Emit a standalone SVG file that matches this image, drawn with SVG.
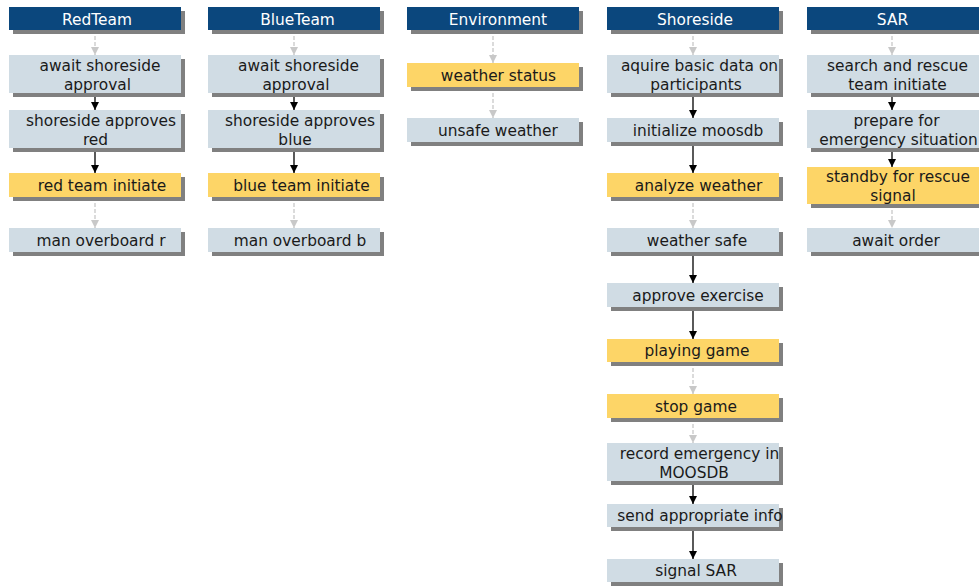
<svg xmlns="http://www.w3.org/2000/svg" width="979" height="586" viewBox="0 0 979 586">
  <defs>
    <style>
      .sh { fill: #808080; }
      .hd { fill: #0B477D; }
      .st { fill: #D0DCE4; }
      .ac { fill: #FDD567; }
      text { font-family: "DejaVu Sans", Verdana, sans-serif; font-size: 15.4px; text-anchor: middle; fill: #1a1a1a; }
      .ht { fill: #FFFFFF; }
      .solid { stroke: #000000; stroke-width: 1.3; fill: none; }
      .dash { stroke: #C8C8C8; stroke-width: 1.3; stroke-dasharray: 4 2; fill: none; }
    </style>
    <marker id="arrBlack" viewBox="0 0 8 8" refX="8" refY="4" markerWidth="8" markerHeight="8" markerUnits="userSpaceOnUse" orient="auto">
      <path d="M0,0 L8,4 L0,8 Z" fill="#000000"/>
    </marker>
    <marker id="arrGray" viewBox="0 0 8 8" refX="8" refY="4" markerWidth="8" markerHeight="8" markerUnits="userSpaceOnUse" orient="auto">
      <path d="M0,0 L8,4 L0,8 Z" fill="#C8C8C8"/>
    </marker>
  </defs>

  <rect width="979" height="586" fill="#FFFFFF"/>

  <!-- connectors -->
  <g id="connectors">
    <!-- RedTeam -->
    <line class="dash" x1="95" y1="30" x2="95" y2="55" marker-end="url(#arrGray)"/>
    <line class="solid" x1="95" y1="93" x2="95" y2="110" marker-end="url(#arrBlack)"/>
    <line class="solid" x1="95" y1="148" x2="95" y2="173" marker-end="url(#arrBlack)"/>
    <line class="dash" x1="95" y1="197" x2="95" y2="228" marker-end="url(#arrGray)"/>
    <!-- BlueTeam -->
    <line class="dash" x1="294" y1="30" x2="294" y2="55" marker-end="url(#arrGray)"/>
    <line class="solid" x1="294" y1="93" x2="294" y2="110" marker-end="url(#arrBlack)"/>
    <line class="solid" x1="294" y1="148" x2="294" y2="173" marker-end="url(#arrBlack)"/>
    <line class="dash" x1="294" y1="197" x2="294" y2="228" marker-end="url(#arrGray)"/>
    <!-- Environment -->
    <line class="dash" x1="493" y1="30" x2="493" y2="63" marker-end="url(#arrGray)"/>
    <line class="dash" x1="493" y1="87" x2="493" y2="118" marker-end="url(#arrGray)"/>
    <!-- Shoreside -->
    <line class="dash" x1="693" y1="30" x2="693" y2="55" marker-end="url(#arrGray)"/>
    <line class="solid" x1="693" y1="93" x2="693" y2="118" marker-end="url(#arrBlack)"/>
    <line class="solid" x1="693" y1="142" x2="693" y2="173" marker-end="url(#arrBlack)"/>
    <line class="dash" x1="693" y1="197" x2="693" y2="228" marker-end="url(#arrGray)"/>
    <line class="solid" x1="693" y1="252" x2="693" y2="283" marker-end="url(#arrBlack)"/>
    <line class="solid" x1="693" y1="307" x2="693" y2="339" marker-end="url(#arrBlack)"/>
    <line class="dash" x1="693" y1="362" x2="693" y2="394" marker-end="url(#arrGray)"/>
    <line class="dash" x1="693" y1="418" x2="693" y2="443" marker-end="url(#arrGray)"/>
    <line class="solid" x1="693" y1="481" x2="693" y2="504" marker-end="url(#arrBlack)"/>
    <line class="solid" x1="693" y1="527" x2="693" y2="559" marker-end="url(#arrBlack)"/>
    <!-- SAR -->
    <line class="dash" x1="892" y1="30" x2="892" y2="55" marker-end="url(#arrGray)"/>
    <line class="solid" x1="892" y1="93" x2="892" y2="110" marker-end="url(#arrBlack)"/>
    <line class="solid" x1="892" y1="148" x2="892" y2="167" marker-end="url(#arrBlack)"/>
    <line class="dash" x1="892" y1="204" x2="892" y2="228" marker-end="url(#arrGray)"/>
  </g>

  <!-- RedTeam lane -->
  <g id="red-header">
    <rect class="sh" x="13" y="11" width="172" height="23"/>
    <rect class="hd" x="9" y="7" width="172" height="23"/>
    <text class="ht" x="97" y="24.5">RedTeam</text>
  </g>
  <g id="red-await">
    <rect class="sh" x="13" y="59" width="172" height="38"/>
    <rect class="st" x="9" y="55" width="172" height="38"/>
    <text x="100" y="71">await shoreside</text>
    <text x="97.5" y="89.5">approval</text>
  </g>
  <g id="red-approves">
    <rect class="sh" x="13" y="114" width="172" height="38"/>
    <rect class="st" x="9" y="110" width="172" height="38"/>
    <text x="101" y="126">shoreside approves</text>
    <text x="95.5" y="144.5">red</text>
  </g>
  <g id="red-initiate">
    <rect class="sh" x="13" y="177" width="172" height="24"/>
    <rect class="ac" x="9" y="173" width="172" height="24"/>
    <text x="102" y="190.5">red team initiate</text>
  </g>
  <g id="red-overboard">
    <rect class="sh" x="13" y="232" width="172" height="24"/>
    <rect class="st" x="9" y="228" width="172" height="24"/>
    <text x="101" y="245.5">man overboard r</text>
  </g>

  <!-- BlueTeam lane -->
  <g id="blue-header">
    <rect class="sh" x="212" y="11" width="172" height="23"/>
    <rect class="hd" x="208" y="7" width="172" height="23"/>
    <text class="ht" x="297.5" y="24.5">BlueTeam</text>
  </g>
  <g id="blue-await">
    <rect class="sh" x="212" y="59" width="172" height="38"/>
    <rect class="st" x="208" y="55" width="172" height="38"/>
    <text x="298.5" y="71">await shoreside</text>
    <text x="296" y="89.5">approval</text>
  </g>
  <g id="blue-approves">
    <rect class="sh" x="212" y="114" width="172" height="38"/>
    <rect class="st" x="208" y="110" width="172" height="38"/>
    <text x="300" y="126">shoreside approves</text>
    <text x="295" y="144.5">blue</text>
  </g>
  <g id="blue-initiate">
    <rect class="sh" x="212" y="177" width="172" height="24"/>
    <rect class="ac" x="208" y="173" width="172" height="24"/>
    <text x="301.5" y="190.5">blue team initiate</text>
  </g>
  <g id="blue-overboard">
    <rect class="sh" x="212" y="232" width="172" height="24"/>
    <rect class="st" x="208" y="228" width="172" height="24"/>
    <text x="300" y="245.5">man overboard b</text>
  </g>

  <!-- Environment lane -->
  <g id="env-header">
    <rect class="sh" x="411" y="11" width="172" height="23"/>
    <rect class="hd" x="407" y="7" width="172" height="23"/>
    <text class="ht" x="498" y="24.5">Environment</text>
  </g>
  <g id="env-status">
    <rect class="sh" x="411" y="67" width="172" height="24"/>
    <rect class="ac" x="407" y="63" width="172" height="24"/>
    <text x="498.5" y="80.5">weather status</text>
  </g>
  <g id="env-unsafe">
    <rect class="sh" x="411" y="122" width="172" height="24"/>
    <rect class="st" x="407" y="118" width="172" height="24"/>
    <text x="498" y="135.5">unsafe weather</text>
  </g>

  <!-- Shoreside lane -->
  <g id="shore-header">
    <rect class="sh" x="611" y="11" width="172" height="23"/>
    <rect class="hd" x="607" y="7" width="172" height="23"/>
    <text class="ht" x="695" y="24.5">Shoreside</text>
  </g>
  <g id="shore-acquire">
    <rect class="sh" x="611" y="59" width="172" height="38"/>
    <rect class="st" x="607" y="55" width="172" height="38"/>
    <text x="699.5" y="71">aquire basic data on</text>
    <text x="696" y="89.5">participants</text>
  </g>
  <g id="shore-init">
    <rect class="sh" x="611" y="122" width="172" height="24"/>
    <rect class="st" x="607" y="118" width="172" height="24"/>
    <text x="698" y="135.5">initialize moosdb</text>
  </g>
  <g id="shore-analyze">
    <rect class="sh" x="611" y="177" width="172" height="24"/>
    <rect class="ac" x="607" y="173" width="172" height="24"/>
    <text x="698.5" y="190.5">analyze weather</text>
  </g>
  <g id="shore-safe">
    <rect class="sh" x="611" y="232" width="172" height="24"/>
    <rect class="st" x="607" y="228" width="172" height="24"/>
    <text x="697" y="245.5">weather safe</text>
  </g>
  <g id="shore-approve">
    <rect class="sh" x="611" y="287" width="172" height="24"/>
    <rect class="st" x="607" y="283" width="172" height="24"/>
    <text x="698" y="300.5">approve exercise</text>
  </g>
  <g id="shore-playing">
    <rect class="sh" x="611" y="343" width="172" height="23"/>
    <rect class="ac" x="607" y="339" width="172" height="23"/>
    <text x="697" y="356">playing game</text>
  </g>
  <g id="shore-stop">
    <rect class="sh" x="611" y="398" width="172" height="24"/>
    <rect class="ac" x="607" y="394" width="172" height="24"/>
    <text x="696" y="411.5">stop game</text>
  </g>
  <g id="shore-record">
    <rect class="sh" x="611" y="447" width="172" height="38"/>
    <rect class="st" x="607" y="443" width="172" height="38"/>
    <text x="699.5" y="459">record emergency in</text>
    <text x="694" y="477.5">MOOSDB</text>
  </g>
  <g id="shore-send">
    <rect class="sh" x="611" y="508" width="172" height="23"/>
    <rect class="st" x="607" y="504" width="172" height="23"/>
    <text x="700" y="521">send appropriate info</text>
  </g>
  <g id="shore-signal">
    <rect class="sh" x="611" y="563" width="172" height="23"/>
    <rect class="st" x="607" y="559" width="172" height="23"/>
    <text x="696" y="576">signal SAR</text>
  </g>

  <!-- SAR lane -->
  <g id="sar-header">
    <rect class="sh" x="811" y="11" width="172" height="23"/>
    <rect class="hd" x="807" y="7" width="172" height="23"/>
    <text class="ht" x="892.5" y="24.5">SAR</text>
  </g>
  <g id="sar-initiate">
    <rect class="sh" x="811" y="59" width="172" height="38"/>
    <rect class="st" x="807" y="55" width="172" height="38"/>
    <text x="897.5" y="71">search and rescue</text>
    <text x="897.5" y="89.5">team initiate</text>
  </g>
  <g id="sar-prepare">
    <rect class="sh" x="811" y="114" width="172" height="38"/>
    <rect class="st" x="807" y="110" width="172" height="38"/>
    <text x="896.5" y="126">prepare for</text>
    <text x="898.5" y="144.5">emergency situation</text>
  </g>
  <g id="sar-standby">
    <rect class="sh" x="811" y="171" width="172" height="37"/>
    <rect class="ac" x="807" y="167" width="172" height="37"/>
    <text x="898" y="182">standby for rescue</text>
    <text x="893" y="200.5">signal</text>
  </g>
  <g id="sar-await">
    <rect class="sh" x="811" y="232" width="172" height="24"/>
    <rect class="st" x="807" y="228" width="172" height="24"/>
    <text x="896" y="245.5">await order</text>
  </g>
</svg>
